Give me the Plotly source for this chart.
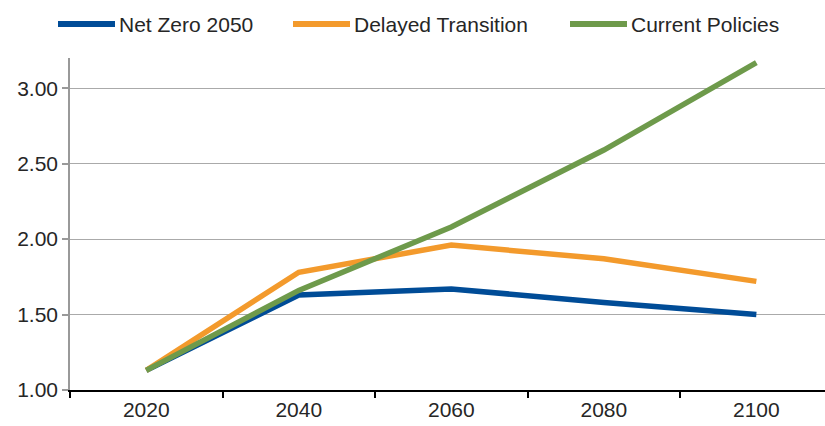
import plotly.graph_objects as go

years = ["2020", "2040", "2060", "2080", "2100"]
net_zero = [1.13, 1.63, 1.67, 1.58, 1.50]
delayed = [1.13, 1.78, 1.96, 1.87, 1.72]
current = [1.13, 1.66, 2.08, 2.59, 3.17]

series_names = ["Net Zero 2050", "Delayed Transition", "Current Policies"]
series_colors = ["#004C97", "#F39A2C", "#6E9A4B"]
y_ticks = [1.0, 1.5, 2.0, 2.5, 3.0]

FONT = "Liberation Sans, Arial, sans-serif"
W, H = 825, 426
ML, MR, MT, MB = 70, 0, 58, 36
PW = W - ML - MR
PH = H - MT - MB

fig = go.Figure()
for name, vals, col in zip(series_names, [net_zero, delayed, current], series_colors):
    fig.add_trace(go.Scatter(x=years, y=vals, mode="lines", name=name,
                             line=dict(color=col, width=5.5), showlegend=False))

# custom legend (long line samples like the reference)
legend_items = [(58, 115, 117), (293, 350, 352), (570, 627, 629)]
ly = 24
def px2x(px):
    return (px - ML) / PW
def py2y(py):
    return (H - MB - py) / PH
for (x0, x1, tx), name, col in zip(legend_items, series_names, series_colors):
    fig.add_shape(type="line", xref="paper", yref="paper",
                  x0=px2x(x0), x1=px2x(x1), y0=py2y(ly), y1=py2y(ly),
                  line=dict(color=col, width=6), layer="above")
    fig.add_annotation(xref="paper", yref="paper", x=px2x(tx), y=py2y(ly),
                       text=name, showarrow=False, xanchor="left", yanchor="middle",
                       font=dict(family=FONT, size=21, color="#262626"))

fig.update_layout(
    width=W, height=H,
    margin=dict(l=ML, r=MR, t=MT, b=MB, pad=0),
    paper_bgcolor="white", plot_bgcolor="white",
    font=dict(family=FONT, size=21, color="#262626"),
    showlegend=False,
)
fig.update_xaxes(
    type="category", range=[-0.5, 4.45], tickson="boundaries",
    ticks="outside", ticklen=6, tickcolor="#000000", tickwidth=1.5,
    showline=True, linecolor="#000000", linewidth=2,
    showgrid=False, zeroline=False, fixedrange=True,
    tickfont=dict(family=FONT, size=21, color="#262626"),
)
fig.update_yaxes(
    range=[1.0, 3.2], tickvals=y_ticks, ticktext=[f"{v:.2f}" for v in y_ticks],
    ticks="outside", ticklen=6, tickcolor="#999999", tickwidth=1.5,
    showline=True, linecolor="#999999", linewidth=1.5,
    showgrid=True, gridcolor="#AAAAAA", gridwidth=1,
    zeroline=False, fixedrange=True,
    tickfont=dict(family=FONT, size=21, color="#262626"),
)

fig.write_html("out.html")
